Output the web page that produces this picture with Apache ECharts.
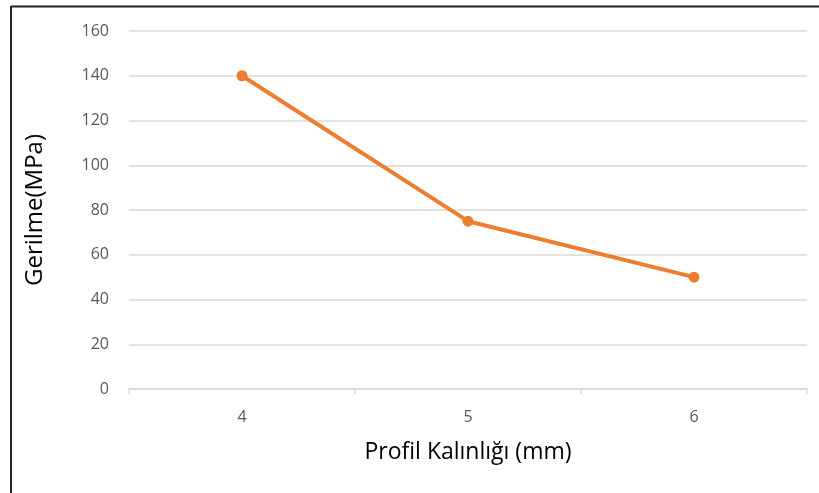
<!DOCTYPE html>
<html><head><meta charset="utf-8">
<script src="https://cdn.jsdelivr.net/npm/echarts@6/dist/echarts.min.js"></script>
<style>html,body{margin:0;padding:0;background:#fff}#c{width:819px;height:493px}</style>
</head><body><div id="c"></div>
<script>
const categories = ['4', '5', '6'];
const stressValues = [140, 75, 50];
const yTicks = [0, 20, 40, 60, 80, 100, 120, 140, 160];
const xTitle = 'Profil Kalınlığı (mm)';
const yTitle = 'Gerilme(MPa)';

const chart = echarts.init(document.getElementById('c'));
chart.setOption({
  animation: false,
  backgroundColor: '#fff',
  textStyle: { fontFamily: 'Open Sans, Liberation Sans, sans-serif' },
  graphic: [
    { type: 'line', shape: { x1: 11, y1: 6.5, x2: 819, y2: 6.5 }, style: { stroke: '#222', lineWidth: 2 } },
    { type: 'line', shape: { x1: 11, y1: 6, x2: 11, y2: 493 }, style: { stroke: '#222', lineWidth: 2 } }
  ],
  grid: { left: 129, right: 12, top: 31, bottom: 104, containLabel: false },
  xAxis: {
    type: 'category',
    data: categories,
    boundaryGap: true,
    name: xTitle,
    nameLocation: 'middle',
    nameGap: 52,
    nameTextStyle: { fontSize: 23, color: '#000', fontFamily: 'Open Sans, sans-serif' },
    axisLine: { show: true, lineStyle: { color: '#d9d9d9', width: 1.5 } },
    axisTick: { show: true, length: 5, lineStyle: { color: '#d9d9d9', width: 1.5 } },
    axisLabel: { color: '#595959', fontSize: 16, margin: 20 }
  },
  yAxis: {
    type: 'value',
    min: yTicks[0],
    max: yTicks[yTicks.length - 1],
    interval: 20,
    name: yTitle,
    nameLocation: 'middle',
    nameGap: 82,
    nameTextStyle: { fontSize: 24, color: '#000', fontFamily: 'Open Sans, sans-serif' },
    axisLine: { show: false },
    axisTick: { show: false },
    axisLabel: { color: '#595959', fontSize: 16, margin: 20 },
    splitLine: { lineStyle: { color: '#d9d9d9', width: 1.5 } }
  },
  series: [{
    type: 'line',
    data: stressValues,
    symbol: 'circle',
    symbolSize: 11,
    lineStyle: { color: '#ED7D31', width: 4 },
    itemStyle: { color: '#ED7D31' }
  }]
});
</script></body></html>
